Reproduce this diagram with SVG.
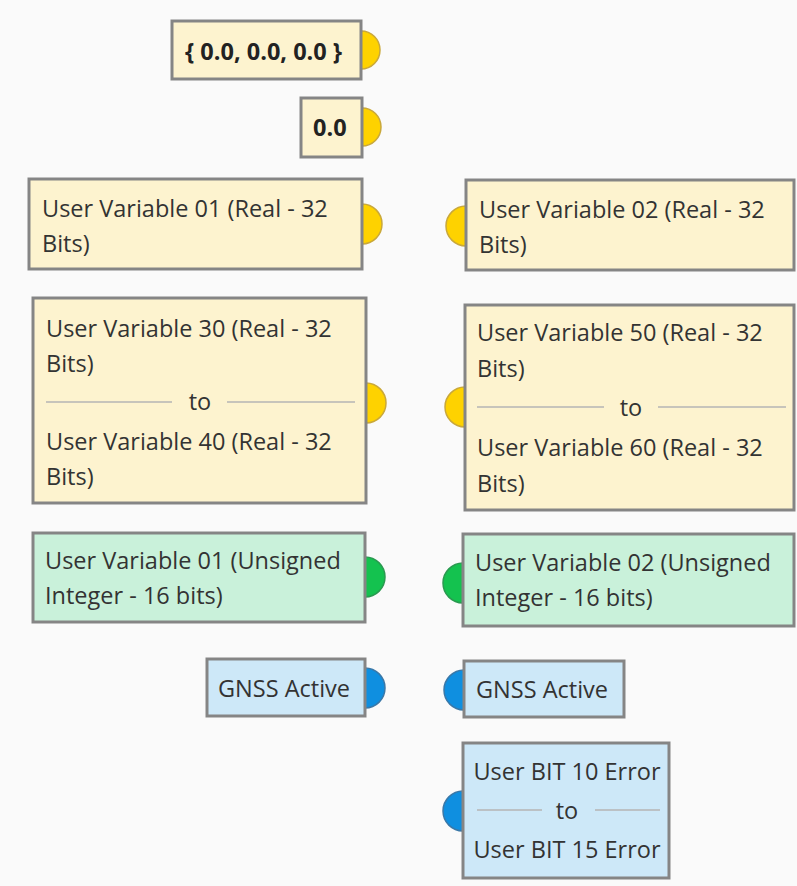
<svg xmlns="http://www.w3.org/2000/svg" width="797" height="886" viewBox="0 0 797 886">
<style>
.bg{fill:#fafafa}
.box{stroke:#858585;stroke-width:3}
.y{fill:#fdf3cf}
.g{fill:#c9f1da}
.b{fill:#cde8f8}
.py{fill:#fed200;stroke:#c9a83a;stroke-width:1.5}
.pg{fill:#14c24f;stroke:#2a9a50;stroke-width:1.5}
.pb{fill:#0f8fe0;stroke:#3a78a8;stroke-width:1.5}
text{font-family:"Open Sans","Noto Sans","Liberation Sans",sans-serif;font-size:23.5px;fill:#333333}
.bold{font-weight:bold;fill:#222222}
.mid{text-anchor:middle}
.sep{stroke:#b5b5b5;stroke-width:1.5}
</style>
<rect class="bg" x="0" y="0" width="797" height="886"/>
<g id="connectors"></g>
<g id="n1">
<circle class="py" cx="361" cy="50" r="19"/>
<rect class="box y" x="172" y="21" width="189" height="58"/>
<text class="bold" x="185" y="60">{ 0.0, 0.0, 0.0 }</text>
</g>
<g id="n2">
<circle class="py" cx="362" cy="127" r="19"/>
<rect class="box y" x="301" y="98" width="61" height="59"/>
<text class="bold" x="313" y="136">0.0</text>
</g>
<g id="n3">
<circle class="py" cx="362" cy="224" r="20"/>
<rect class="box y" x="29" y="179" width="333" height="90"/>
<text x="42" y="217">User Variable 01 (Real - 32</text>
<text x="42" y="252">Bits)</text>
</g>
<g id="n4">
<circle class="py" cx="466" cy="226" r="20"/>
<rect class="box y" x="466" y="180" width="328" height="90"/>
<text x="479" y="218">User Variable 02 (Real - 32</text>
<text x="479" y="253">Bits)</text>
</g>
<g id="n5">
<circle class="py" cx="366" cy="403" r="20"/>
<rect class="box y" x="33" y="298" width="333" height="205"/>
<text x="46" y="337">User Variable 30 (Real - 32</text>
<text x="46" y="372">Bits)</text>
<line class="sep" x1="46" y1="402" x2="172" y2="402"/>
<text class="mid" x="200" y="410">to</text>
<line class="sep" x1="227" y1="402" x2="355" y2="402"/>
<text x="46" y="450">User Variable 40 (Real - 32</text>
<text x="46" y="485">Bits)</text>
</g>
<g id="n6">
<circle class="py" cx="465" cy="407" r="20"/>
<rect class="box y" x="465" y="305" width="329" height="205"/>
<text x="477" y="341">User Variable 50 (Real - 32</text>
<text x="477" y="377">Bits)</text>
<line class="sep" x1="477" y1="407" x2="604" y2="407"/>
<text class="mid" x="631" y="416">to</text>
<line class="sep" x1="658" y1="407" x2="786" y2="407"/>
<text x="477" y="456">User Variable 60 (Real - 32</text>
<text x="477" y="492">Bits)</text>
</g>
<g id="n7">
<circle class="pg" cx="365" cy="577" r="20"/>
<rect class="box g" x="33" y="533" width="332" height="89"/>
<text x="45" y="569">User Variable 01 (Unsigned</text>
<text x="45" y="604">Integer - 16 bits)</text>
</g>
<g id="n8">
<circle class="pg" cx="463" cy="583" r="20"/>
<rect class="box g" x="463" y="534" width="331" height="92"/>
<text x="475" y="571">User Variable 02 (Unsigned</text>
<text x="475" y="606">Integer - 16 bits)</text>
</g>
<g id="n9">
<circle class="pb" cx="365" cy="688" r="20"/>
<rect class="box b" x="207" y="659" width="158" height="57"/>
<text x="218" y="697">GNSS Active</text>
</g>
<g id="n10">
<circle class="pb" cx="464" cy="690" r="20"/>
<rect class="box b" x="464" y="661" width="160" height="56"/>
<text x="476" y="698">GNSS Active</text>
</g>
<g id="n11">
<circle class="pb" cx="463" cy="811" r="20"/>
<rect class="box b" x="463" y="743" width="206" height="135"/>
<text class="mid" x="567" y="780">User BIT 10 Error</text>
<line class="sep" x1="477" y1="810" x2="542" y2="810"/>
<text class="mid" x="567" y="819">to</text>
<line class="sep" x1="595" y1="810" x2="660" y2="810"/>
<text class="mid" x="567" y="858">User BIT 15 Error</text>
</g>
</svg>
